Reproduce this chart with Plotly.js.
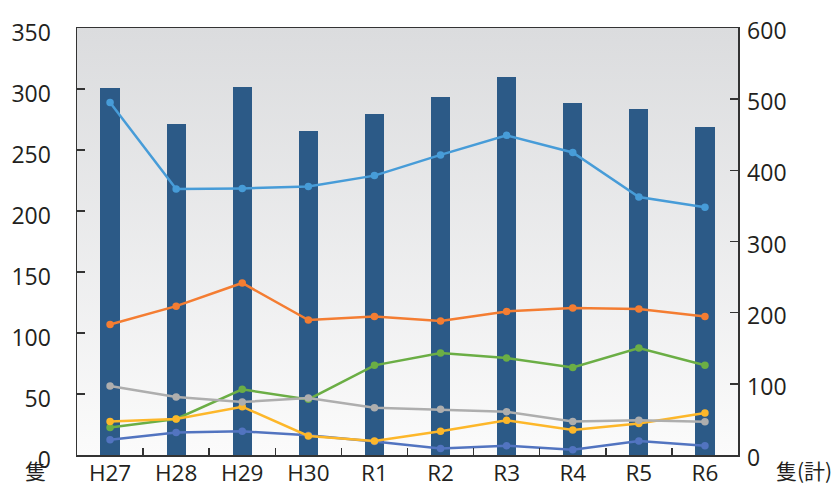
<!DOCTYPE html>
<html>
<head>
<meta charset="utf-8">
<script src="https://cdn.plot.ly/plotly-3.0.1.min.js"></script>
<style>html,body{margin:0;padding:0;background:#fff;}#chart{width:840px;height:486px;}</style>
</head>
<body>
<div id="chart"></div>
<script>
const categories = ["H27","H28","H29","H30","R1","R2","R3","R4","R5","R6"];
const totalBars = [515, 465, 517, 455, 479, 503, 531, 494, 486, 461];
const lineLightBlue = [289, 218, 218.5, 220, 229, 246, 262, 248, 211.5, 203];
const lineOrange = [107, 122, 141, 110.6, 113.6, 109.8, 117.7, 120.5, 119.7, 113.6];
const lineGreen = [22.6, 29.5, 53.8, 45.6, 73.5, 83.6, 79.5, 71.8, 87.7, 73.5];
const lineGray = [56.5, 47.5, 43.4, 46.7, 38.8, 37.4, 35.5, 27.5, 28.4, 27.3];
const lineYellow = [27.5, 29.5, 39.6, 15.6, 11.5, 19.4, 28.4, 20.5, 25.9, 34.4];
const lineBlue = [12.5, 18.5, 19.4, 16.1, 11, 5.4, 7.6, 4.3, 11.5, 7.6];
const leftTicks = [0, 50, 100, 150, 200, 250, 300, 350];
const rightTicks = [0, 100, 200, 300, 400, 500, 600];

function line(vals, color) {
  return {
    type: 'scatter', mode: 'lines+markers', x: categories, y: vals, yaxis: 'y2',
    line: {color: color, width: 2.5}, marker: {color: color, size: 7.5},
    hoverinfo: 'skip', showlegend: false
  };
}

const traces = [
  {type: 'bar', x: categories, y: totalBars, marker: {color: '#2C5A87'}, width: 0.29,
   hoverinfo: 'skip', showlegend: false},
  line(lineLightBlue, '#479CD8'),
  line(lineOrange, '#F47D32'),
  line(lineBlue, '#5274C0'),
  line(lineGreen, '#6BAE45'),
  line(lineYellow, '#FDB72A'),
  line(lineGray, '#AEAEAE')
];

const grad = '<svg xmlns="http://www.w3.org/2000/svg" width="10" height="100" preserveAspectRatio="none">' +
  '<defs><linearGradient id="g" x1="0" y1="0" x2="0" y2="1">' +
  '<stop offset="0" stop-color="#DBDCDE"/><stop offset="1" stop-color="#FBFBFB"/></linearGradient></defs>' +
  '<rect width="10" height="100" fill="url(#g)"/></svg>';

const tickFont = {family: '"Open Sans", "Noto Sans", sans-serif', size: 23, color: '#231F20'};
const xFont = {family: '"Open Sans", "Noto Sans", sans-serif', size: 22.5, color: '#231F20'};

const layout = {
  width: 840, height: 486,
  margin: {l: 77, r: 102, t: 28, b: 31, pad: 0},
  paper_bgcolor: '#ffffff', plot_bgcolor: 'rgba(0,0,0,0)',
  showlegend: false,
  bargap: 0,
  images: [{
    source: 'data:image/svg+xml;charset=utf-8,' + encodeURIComponent(grad),
    xref: 'paper', yref: 'paper', x: 0, y: 1, sizex: 1, sizey: 1,
    sizing: 'stretch', xanchor: 'left', yanchor: 'top', layer: 'below'
  }],
  xaxis: {
    type: 'category', range: [-0.5, 9.5], tickvals: categories,
    tickson: 'boundaries', ticks: 'inside', ticklen: 7, tickwidth: 1.5, tickcolor: '#333',
    showline: true, linecolor: '#333', linewidth: 1.5, mirror: true,
    showgrid: false, zeroline: false, tickfont: xFont, ticklabelstandoff: -3
  },
  yaxis: {
    side: 'right', range: [0, 600], tickvals: rightTicks,
    ticks: 'inside', ticklen: 8, tickwidth: 1.5, tickcolor: '#333',
    showline: true, linecolor: '#333', linewidth: 1.5,
    showgrid: false, zeroline: false, tickfont: tickFont,
    ticklabelshift: 3, ticklabelstandoff: 3
  },
  yaxis2: {
    overlaying: 'y', side: 'left', range: [0, 350], tickvals: leftTicks,
    ticks: 'inside', ticklen: 8, tickwidth: 1.5, tickcolor: '#333',
    showline: true, linecolor: '#333', linewidth: 1.5,
    showgrid: false, zeroline: false, tickfont: tickFont,
    ticklabelshift: 5, ticklabelstandoff: 20
  },
  annotations: [
    {text: '隻', xref: 'paper', yref: 'paper', x: -0.063, y: -0.036,
     xanchor: 'center', yanchor: 'middle', showarrow: false,
     font: {family: '"Noto Sans CJK JP", sans-serif', size: 21, color: '#231F20'}},
    {text: '隻(計)', xref: 'paper', yref: 'paper', x: 1.10, y: -0.036,
     xanchor: 'center', yanchor: 'middle', showarrow: false,
     font: {family: '"Noto Sans CJK JP", sans-serif', size: 21, color: '#231F20'}}
  ]
};

Plotly.newPlot('chart', traces, layout, {displayModeBar: false, staticPlot: true});
</script>
</body>
</html>
